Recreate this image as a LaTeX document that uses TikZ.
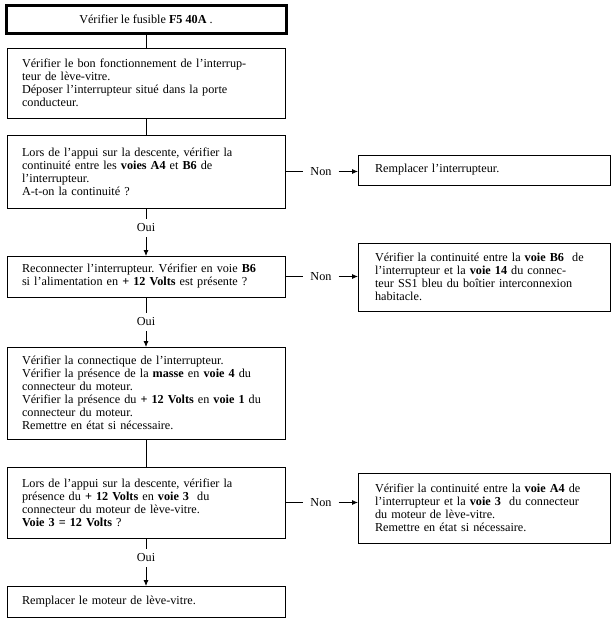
\documentclass[tikz,border=0pt]{standalone}
\usepackage{fontspec}
\setmainfont{Liberation Serif}
\usetikzlibrary{arrows.meta}
\frenchspacing
\tikzset{
  txt/.style={font=\fontsize{12.2}{13}\selectfont},
  box/.style={txt, draw, line width=0.8pt, outer sep=0pt, anchor=north west, align=left, inner xsep=15pt, inner ysep=2pt},
  lbox/.style={box, minimum width=278pt, text width=248pt},
  rbox/.style={box, minimum width=252pt, text width=218pt, inner xsep=17pt},
  fbox/.style={txt, draw, line width=3pt, outer sep=0pt, anchor=north west, align=center, minimum width=280pt, minimum height=28pt},
  lbl/.style={txt, inner xsep=7pt, inner ysep=5pt},
  conn/.style={line width=0.8pt},
  arr/.style={line width=0.8pt, -{Latex[length=6pt,width=5pt]}},
}
\begin{document}
\begin{tikzpicture}[x=1pt,y=-1pt]
\useasboundingbox (0,0) rectangle (612,621);
\node[fbox] (f1) at (6,5) {Vérifier le fusible \textbf{F5 40A} .};
\node[lbox, minimum height=70pt] (b2) at (7,48) {Vérifier le bon fonctionnement de l’interrup-\\teur de lève-vitre.\\Déposer l’interrupteur situé dans la porte\\conducteur.};
\node[lbox, minimum height=73pt] (b3) at (7,135) {Lors de l’appui sur la descente, vérifier la\\continuité entre les \textbf{voies A4} et \textbf{B6} de\\l’interrupteur.\\A-t-on la continuité ?};
\node[lbox, minimum height=41pt] (b4) at (7,256) {Reconnecter l’interrupteur. Vérifier en voie \textbf{B6}\\si l’alimentation en \textbf{+ 12 Volts} est présente ?};
\node[lbox, minimum height=92pt] (b5) at (7,347) {Vérifier la connectique de l’interrupteur.\\Vérifier la présence de la \textbf{masse} en \textbf{voie 4} du\\connecteur du moteur.\\Vérifier la présence du \textbf{+ 12 Volts} en \textbf{voie 1} du\\connecteur du moteur.\\Remettre en état si nécessaire.};
\node[lbox, minimum height=71pt] (b6) at (7,467) {Lors de l’appui sur la descente, vérifier la\\présence du \textbf{+ 12 Volts} en \textbf{voie 3}\ \ du\\connecteur du moteur de lève-vitre.\\\textbf{Voie 3 = 12 Volts} ?};
\node[lbox, minimum height=31pt] (b7) at (7,586) {Remplacer le moteur de lève-vitre.};
\node[rbox, minimum height=30pt] (r1) at (358,155) {Remplacer l’interrupteur.};
\node[rbox, minimum height=68pt] (r2) at (358,243) {Vérifier la continuité entre la \textbf{voie B6}\ \ de\\l’interrupteur et la \textbf{voie 14} du connec-\\teur SS1 bleu du boîtier interconnexion\\habitacle.};
\node[rbox, minimum height=70pt] (r3) at (358,473) {Vérifier la continuité entre la \textbf{voie A4} de\\l’interrupteur et la \textbf{voie 3}\ \ du connecteur\\du moteur de lève-vitre.\\Remettre en état si nécessaire.};
% vertical links
\draw[conn] (f1.south -| b2.north) -- (b2.north);
\draw[conn] (b2.south) -- (b3.north);
\draw[conn] (b5.south) -- (b6.north);
\path (b3.south) ++(0,20) node[lbl] (o1) {Oui};
\path (b4.south) ++(0,25) node[lbl] (o2) {Oui};
\path (b6.south) ++(0,20) node[lbl] (o3) {Oui};
\draw[conn] (b3.south) -- (o1.north);
\draw[arr] (o1.south) -- (b4.north);
\draw[conn] (b4.south) -- (o2.north);
\draw[arr] (o2.south) -- (b5.north);
\draw[conn] (b6.south) -- (o3.north);
\draw[arr] (o3.south) -- (b7.north);
% Non branches
\path (b3.east) ++(36,0) node[lbl] (n1) {Non};
\path (b4.east) ++(36,0) node[lbl] (n2) {Non};
\path (b6.east) ++(36,0) node[lbl] (n3) {Non};
\draw[conn] (b3.east) -- (n1.west);
\draw[arr] (n1.east) -- (n1.east -| r1.west);
\draw[conn] (b4.east) -- (n2.west);
\draw[arr] (n2.east) -- (n2.east -| r2.west);
\draw[conn] (b6.east) -- (n3.west);
\draw[arr] (n3.east) -- (n3.east -| r3.west);
\end{tikzpicture}
\end{document}
